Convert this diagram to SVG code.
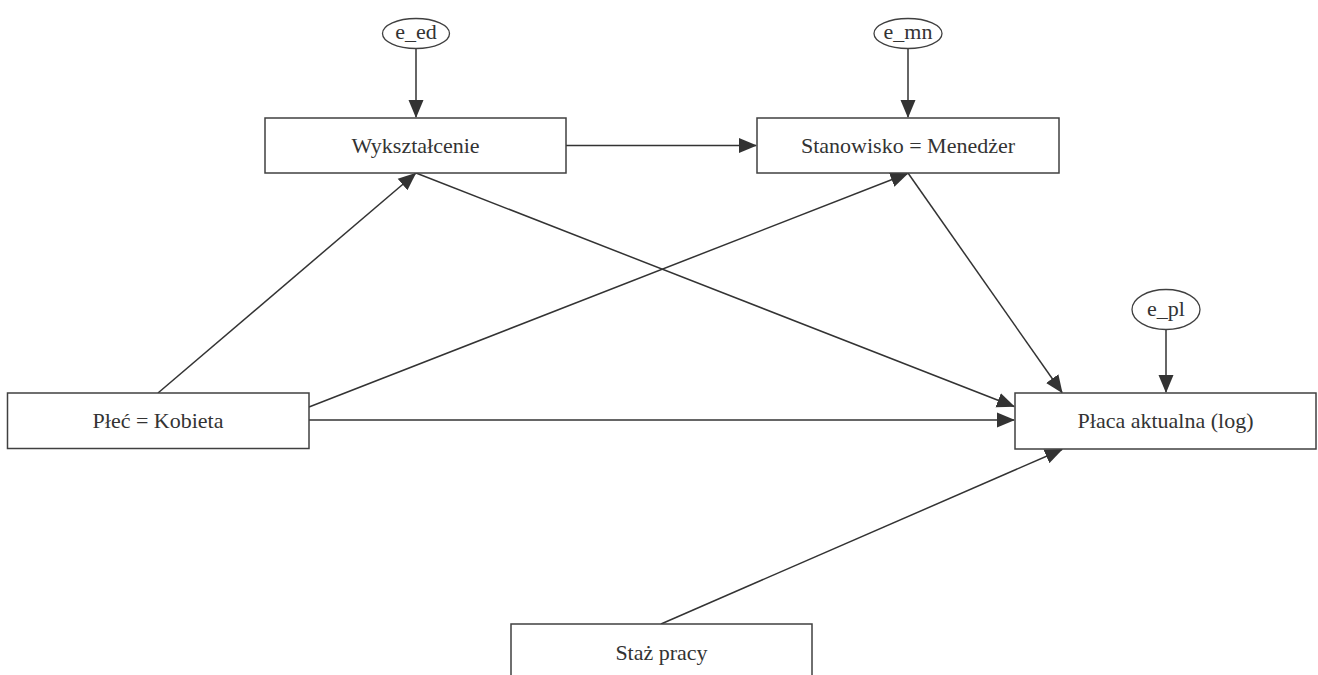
<svg xmlns="http://www.w3.org/2000/svg" width="1318" height="675" viewBox="0 0 1318 675">
<style>
.box{fill:#fff;stroke:#404040;stroke-width:1.5}
.err{fill:#fff;stroke:#404040;stroke-width:1.3}
.lbl{font-family:'Liberation Serif','DejaVu Serif','Times New Roman',Times,serif;font-size:22px;fill:#333;text-anchor:middle}
.edge{stroke:#333;stroke-width:1.5;fill:none;marker-end:url(#arr)}
</style>
<defs>
<marker id="arr" markerWidth="18" markerHeight="16" refX="17" refY="8" orient="auto" markerUnits="userSpaceOnUse">
<path d="M0,0.5 L18,8 L0,15.5 z" fill="#333"/>
</marker>
</defs>
<rect width="1318" height="675" fill="#fff"/>
<g id="connectors">
<line class="edge" x1="416" y1="48" x2="416" y2="117"/>
<line class="edge" x1="908" y1="48" x2="908" y2="117"/>
<line class="edge" x1="1166" y1="330" x2="1166" y2="392"/>
<line class="edge" x1="566" y1="145.5" x2="756" y2="145.5"/>
<line class="edge" x1="158" y1="393" x2="415.5" y2="173.5"/>
<line class="edge" x1="309" y1="407" x2="907.5" y2="173.5"/>
<line class="edge" x1="309" y1="420" x2="1014" y2="420"/>
<line class="edge" x1="416" y1="173" x2="1014" y2="406.5"/>
<line class="edge" x1="908" y1="173" x2="1062" y2="392.5"/>
<line class="edge" x1="661" y1="624" x2="1062" y2="449.5"/>
</g>
<g id="e_ed">
<ellipse class="err" cx="416" cy="33.5" rx="33.5" ry="15"/>
<text class="lbl" font-family="Liberation Serif, serif" x="416" y="39">e_ed</text>
</g>
<g id="e_mn">
<ellipse class="err" cx="908" cy="33.5" rx="34" ry="15"/>
<text class="lbl" font-family="Liberation Serif, serif" x="908" y="39">e_mn</text>
</g>
<g id="e_pl">
<ellipse class="err" cx="1166" cy="309.5" rx="34" ry="20"/>
<text class="lbl" font-family="Liberation Serif, serif" x="1166" y="316">e_pl</text>
</g>
<g id="wyksztalcenie">
<rect class="box" x="265" y="118" width="301" height="55"/>
<text class="lbl" font-family="Liberation Serif, serif" x="415.5" y="152.5">Wykształcenie</text>
</g>
<g id="stanowisko">
<rect class="box" x="757" y="118" width="302" height="55"/>
<text class="lbl" font-family="Liberation Serif, serif" x="908" y="152.5">Stanowisko = Menedżer</text>
</g>
<g id="plec">
<rect class="box" x="7.5" y="393" width="301.5" height="55.5"/>
<text class="lbl" font-family="Liberation Serif, serif" x="158" y="428">Płeć = Kobieta</text>
</g>
<g id="placa">
<rect class="box" x="1015" y="393" width="301" height="56"/>
<text class="lbl" font-family="Liberation Serif, serif" x="1165.5" y="428">Płaca aktualna (log)</text>
</g>
<g id="staz">
<rect class="box" x="511" y="624" width="301" height="56"/>
<text class="lbl" font-family="Liberation Serif, serif" x="661.5" y="660">Staż pracy</text>
</g>
</svg>
